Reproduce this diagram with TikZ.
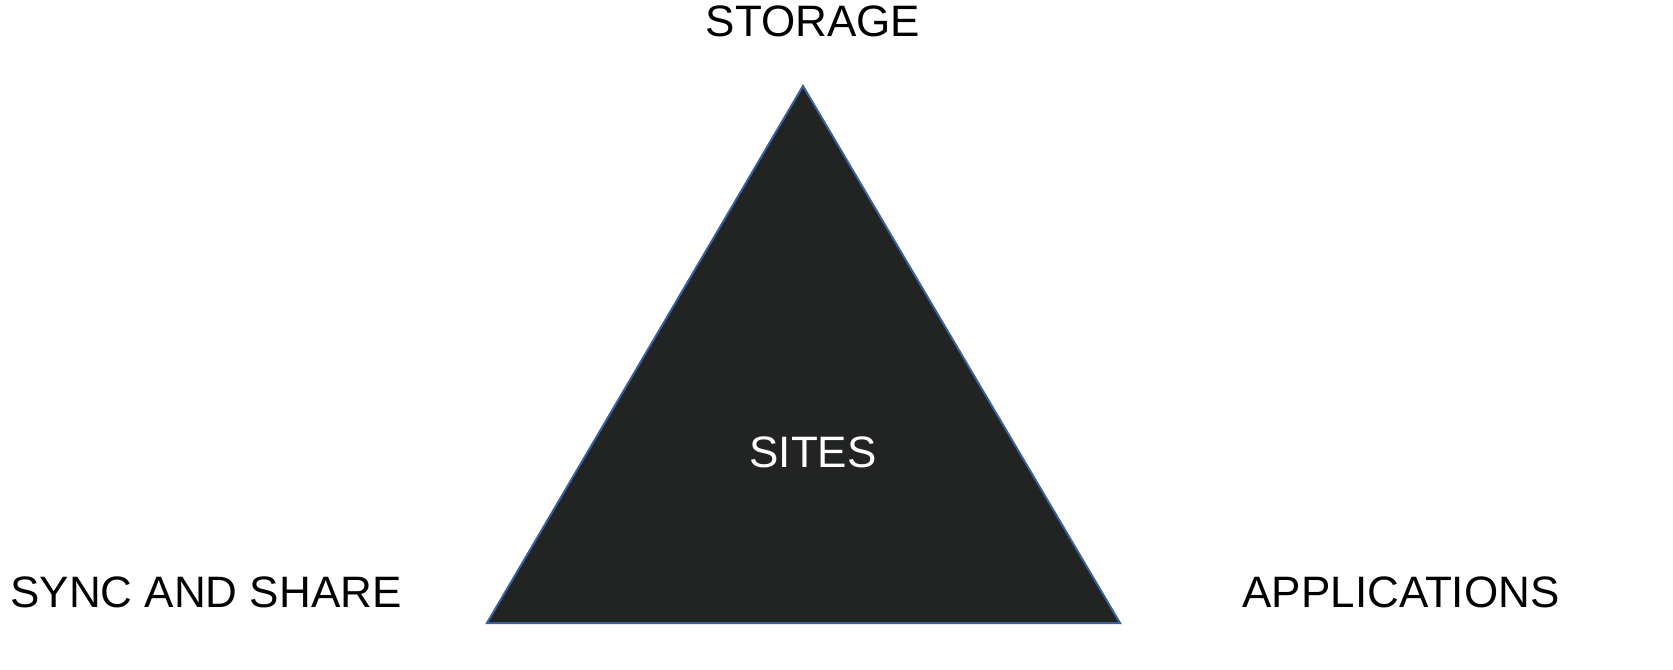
\documentclass[tikz,border=0pt]{standalone}
\usepackage{fontspec}
\setmainfont{Liberation Sans}
\usetikzlibrary{positioning}
\definecolor{pyramidfill}{HTML}{222423}
\definecolor{pyramidedge}{HTML}{3A5F9F}

\begin{document}
\begin{tikzpicture}[
    x=0.75pt,
    y=-0.75pt,
    every node/.style={inner sep=0pt, font=\fontsize{33}{38}\selectfont},
    cornertext/.style={text=black},
    pyramid/.style={fill=pyramidfill, draw=pyramidedge, line width=1.5pt, line join=miter}
]
   \useasboundingbox (0,0) rectangle (1673,670);

   % Corners of the triangle
   \coordinate (top) at (803,86);
   \coordinate (left) at (487,623);
   \coordinate (right) at (1120,623);

   \filldraw[pyramid] (top) -- (right) -- (left) -- cycle;

   % Labels
   \node[text=white] (sites) at (813,452) {SITES};
   \node[cornertext] (storage) at (813,21) {STORAGE};
   \node[cornertext] (sync) at (206,592) {SYNC AND SHARE};
   \node[cornertext] (apps) at (1401,592) {APPLICATIONS};
\end{tikzpicture}
\end{document}
